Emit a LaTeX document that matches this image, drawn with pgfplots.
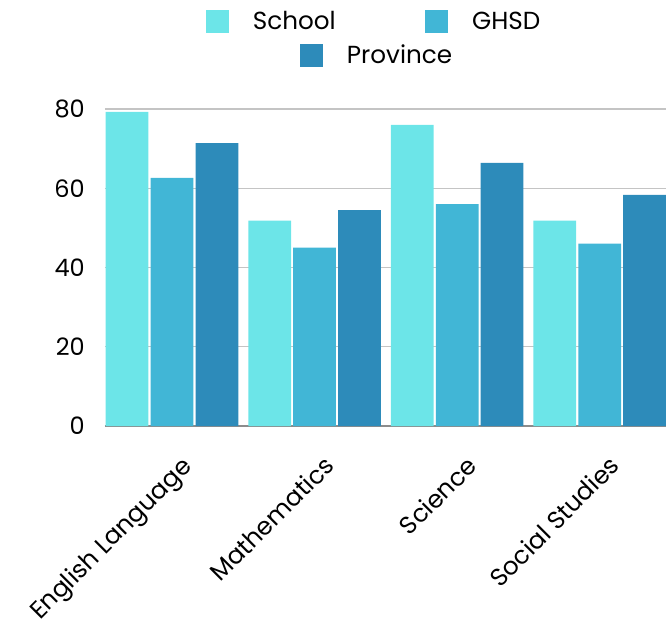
\documentclass[border=0pt]{standalone}
\usepackage{fontspec}
\setmainfont{Poppins}
\usepackage{pgfplots}
\pgfplotsset{compat=1.18}
\definecolor{school}{HTML}{6CE5E8}
\definecolor{ghsd}{HTML}{41B6D6}
\definecolor{prov}{HTML}{2D8BBA}
\definecolor{gridc}{HTML}{C4C4C4}
\definecolor{basec}{HTML}{8C8C8C}

% subject scores
\pgfplotstableread{
x school ghsd prov
0 79.3 62.6 71.4
1 51.8 45.0 54.5
2 76.0 56.0 66.4
3 51.8 46.0 58.3
}\scores

\pgfplotsset{
  sqlegend/.style={
    legend image code/.code={\fill[##1] (0pt,-8.6pt) rectangle (17.2pt,8.6pt);},
    legend cell align=left,
    legend style={draw=none, fill=none, inner sep=0pt, outer sep=0pt,
      font=\fontsize{18.5}{21}\selectfont,
      nodes={inner sep=0pt},
      /tikz/every odd column/.append style={column sep=18pt},
      /tikz/every even column/.append style={column sep=67pt}},
  },
}

\begin{document}
\begin{tikzpicture}
\begin{axis}[
    width=420.75pt, height=237.75pt, scale only axis,
    ybar, bar width=0.3,
    sqlegend,
    xmin=-0.47, xmax=3.465,
    ymin=0, ymax=80,
    ytick={0,20,40,60,80},
    xtick={0,1,2,3},
    xticklabels={English Language, Mathematics, Science, Social Studies},
    major tick length=0pt,
    axis line style={draw=none},
    ymajorgrids, grid style={gridc, line width=1.1pt},
    extra y ticks={0}, extra y tick labels={},
    extra y tick style={grid style={basec, line width=1.2pt}},
    tick label style={font=\fontsize{18}{21}\selectfont},
    xticklabel style={font=\fontsize{18.5}{21}\selectfont},
    /pgf/number format/assume math mode=true,
    yticklabel style={inner sep=0pt, xshift=-15pt},
    xticklabel style={xshift=6pt, yshift=-21pt, rotate=45, anchor=north east, inner sep=0pt},
    legend columns=2,
    legend style={at={(0.18,1.276)}, anchor=west},
  ]
  \addplot[fill=school, draw=none, bar shift=-0.315] table[x=x, y=school] {\scores};
  \addlegendentry{School}
  \addplot[fill=ghsd, draw=none, bar shift=0] table[x=x, y=ghsd] {\scores};
  \addlegendentry{GHSD}
  \addplot[fill=prov, draw=none, bar shift=0.315, forget plot] table[x=x, y=prov] {\scores};
\end{axis}
\begin{axis}[
    width=420.75pt, height=237.75pt, scale only axis,
    hide axis, xmin=0, xmax=1, ymin=0, ymax=1,
    sqlegend,
    legend style={at={(0.3476,1.169)}, anchor=west},
  ]
  \addlegendimage{fill=prov, draw=none}
  \addlegendentry{Province}
\end{axis}
\pgfresetboundingbox
\path[use as bounding box] (-78.75pt,-148.5pt) rectangle (420.75pt,319.5pt);
\end{tikzpicture}
\end{document}
